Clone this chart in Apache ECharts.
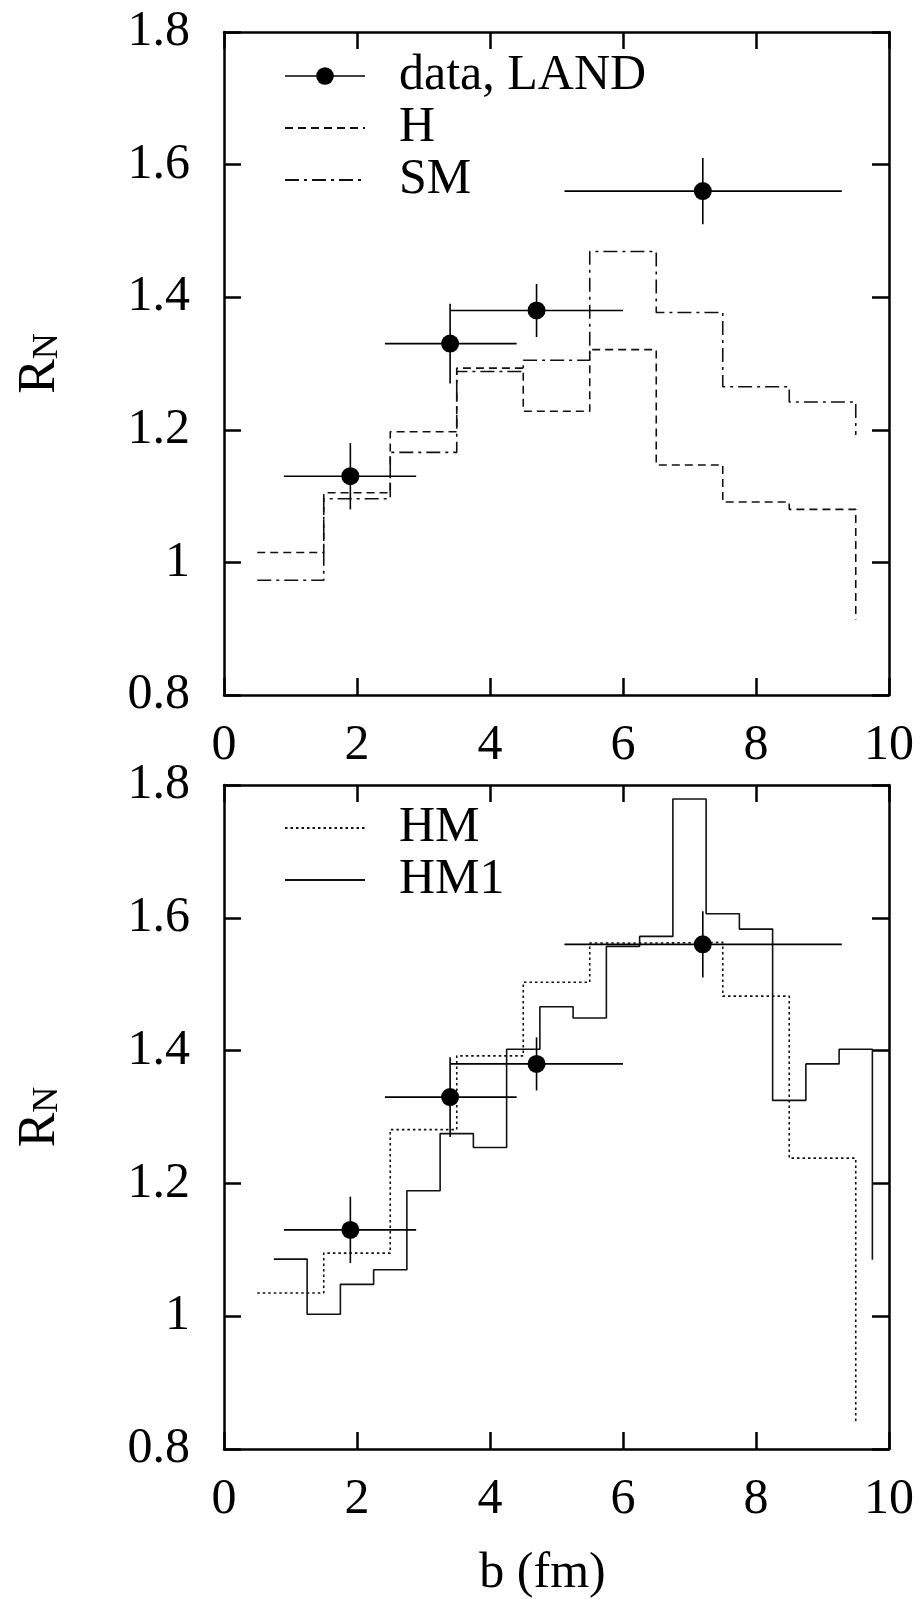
<!DOCTYPE html>
<html><head><meta charset="utf-8">
<script src="https://cdn.jsdelivr.net/npm/echarts@6/dist/echarts.min.js"></script>
<style>html,body{margin:0;padding:0;background:#fff}#c{width:920px;height:1608px}</style>
</head><body><div id="c"></div>
<script>
// ---- axis ticks ----
const xTicks = [0, 2, 4, 6, 8, 10];
const yTicks = [0.8, 1.0, 1.2, 1.4, 1.6, 1.8];

// ---- data, LAND ----
const dataX    = [1.9, 3.4, 4.7, 7.2];
const dataY    = [1.13, 1.33, 1.38, 1.56];
const dataXLo  = [0.9, 2.42, 3.41, 5.12];
const dataXHi  = [2.89, 4.40, 6.0, 9.29];
const dataYErr = [0.05, 0.06, 0.04, 0.05];

// ---- model histograms (bin edges + bin values + closing value) ----
const binEdges = [0.5, 1.5, 2.5, 3.5, 4.5, 5.5, 6.5, 7.5, 8.5, 9.5];
const hValues  = [1.015, 1.105, 1.197, 1.293, 1.228, 1.321, 1.147, 1.091, 1.080];
const hEnd     = 0.914;
const smValues = [0.973, 1.096, 1.166, 1.288, 1.305, 1.469, 1.377, 1.265, 1.242];
const smEnd    = 1.192;
const hmValues = [1.035, 1.095, 1.281, 1.392, 1.503, 1.562, 1.563, 1.482, 1.238];
const hmEnd    = 0.839;
const hm1Edges  = [0.75, 1.25, 1.75, 2.25, 2.75, 3.25, 3.75, 4.25, 4.75, 5.25, 5.75, 6.25, 6.75, 7.25, 7.75, 8.25, 8.75, 9.25, 9.75];
const hm1Values = [1.086, 1.003, 1.048, 1.070, 1.189, 1.275, 1.254, 1.402, 1.466, 1.449, 1.557, 1.572, 1.779, 1.606, 1.583, 1.325, 1.380, 1.402];
const hm1End    = 1.085;

const F = '"Liberation Serif", "Times New Roman", serif';
const FS = 50;

function stepData(edges, vals, endVal) {
  const d = vals.map((v, i) => [edges[i], v]);
  d.push([edges[edges.length - 1], vals[vals.length - 1]]);
  d.push([edges[edges.length - 1], endVal]);
  return d;
}
const pts = dataX.map((x, i) => [x, dataY[i]]);
const errs = dataX.map((x, i) => [x, dataY[i], dataXLo[i], dataXHi[i], dataY[i] - dataYErr[i], dataY[i] + dataYErr[i]]);

const xMin = xTicks[0], xMax = xTicks[xTicks.length - 1], xInt = xTicks[1] - xTicks[0];
const yMin = yTicks[0], yMax = yTicks[yTicks.length - 1], yInt = 0.2;

const lineAx = {show: true, onZero: false, lineStyle: {color: '#000', width: 2.5}};
const tickIn = {show: true, inside: true, length: 17, lineStyle: {color: '#000', width: 2.5}};

function xAx(grid, pos, labels, extra) {
  return Object.assign({
    type: 'value', gridIndex: grid, position: pos, min: xMin, max: xMax, interval: xInt,
    axisLine: lineAx, axisTick: tickIn, splitLine: {show: false},
    axisLabel: {show: labels, margin: 26, fontFamily: F, fontSize: FS, color: '#000'}
  }, extra || {});
}
function yAx(grid, pos, labels, extra) {
  return Object.assign({
    type: 'value', gridIndex: grid, position: pos, min: yMin, max: yMax, interval: yInt,
    axisLine: lineAx, axisTick: tickIn, splitLine: {show: false},
    axisLabel: {show: labels, margin: 34, fontFamily: F, fontSize: FS, color: '#000'}
  }, extra || {});
}
const yName = {
  name: '{r|R}{s|N}', nameLocation: 'middle', nameRotate: 90, nameGap: 158,
  nameTextStyle: {rich: {
    r: {fontFamily: F, fontSize: 52, color: '#000', verticalAlign: 'top', lineHeight: 52},
    s: {fontFamily: F, fontSize: 36, color: '#000', verticalAlign: 'bottom', lineHeight: 36, padding: [22, 0, 0, 0]}
  }}
};

function errSeries(xi, yi) {
  return {
    type: 'custom', xAxisIndex: xi, yAxisIndex: yi, data: errs, clip: false, z: 4,
    renderItem(params, api) {
      const x = api.value(0), y = api.value(1);
      const a = api.coord([api.value(2), y]), b = api.coord([api.value(3), y]);
      const c = api.coord([x, api.value(4)]), d = api.coord([x, api.value(5)]);
      const st = {stroke: '#000', lineWidth: 1.6};
      return {type: 'group', children: [
        {type: 'line', shape: {x1: a[0], y1: a[1], x2: b[0], y2: b[1]}, style: st},
        {type: 'line', shape: {x1: c[0], y1: c[1], x2: d[0], y2: d[1]}, style: st}
      ]};
    }
  };
}
function ptSeries(xi, yi) {
  return {
    name: 'data, LAND', type: 'line', xAxisIndex: xi, yAxisIndex: yi, data: pts,
    symbol: 'circle', symbolSize: 18, showSymbol: true, z: 5,
    itemStyle: {color: '#000'}, lineStyle: {opacity: 0, color: '#000', width: 1.6}
  };
}
function histSeries(name, d, xi, yi, dash) {
  return {
    name, type: 'line', step: 'end', xAxisIndex: xi, yAxisIndex: yi, data: d,
    symbol: 'none', showSymbol: false, z: 3,
    itemStyle: {color: '#000'},
    lineStyle: {color: '#111', width: 1.6, type: dash}
  };
}

const legendText = {fontFamily: F, fontSize: FS, color: '#000', lineHeight: 50, padding: [0, 0, 0, 29]};
const noSym = {opacity: 0};

const option = {
  animation: false,
  backgroundColor: '#fff',
  grid: [
    {left: 221, top: 32, width: 668, height: 663},
    {left: 221, top: 785, width: 668, height: 664}
  ],
  xAxis: [
    xAx(0, 'bottom', true),
    xAx(0, 'top', false),
    xAx(1, 'bottom', true, {name: 'b (fm)', nameLocation: 'middle', nameGap: 100,
      nameTextStyle: {fontFamily: F, fontSize: FS, color: '#000', padding: [0, 28, 0, 0]}}),
    xAx(1, 'top', false)
  ],
  yAxis: [
    yAx(0, 'left', true, yName),
    yAx(0, 'right', false),
    yAx(1, 'left', true, yName),
    yAx(1, 'right', false)
  ],
  legend: [
    {top: 51, left: 284, orient: 'vertical', padding: 0, itemWidth: 80, itemHeight: 22, itemGap: 2,
     selectedMode: false, textStyle: legendText,
     data: [{name: 'data, LAND', lineStyle: {opacity: 1, width: 1.6, color: '#000'}},
            {name: 'H', itemStyle: noSym}, {name: 'SM', itemStyle: noSym}]},
    {top: 803, left: 284, orient: 'vertical', padding: 0, itemWidth: 80, itemHeight: 22, itemGap: 2,
     selectedMode: false, textStyle: legendText,
     data: [{name: 'HM', itemStyle: noSym}, {name: 'HM1', itemStyle: noSym}]}
  ],
  series: [
    histSeries('H', stepData(binEdges, hValues, hEnd), 0, 0, [8, 5]),
    histSeries('SM', stepData(binEdges, smValues, smEnd), 0, 0, [14, 5, 3, 5]),
    errSeries(0, 0),
    ptSeries(0, 0),
    histSeries('HM', stepData(binEdges, hmValues, hmEnd), 2, 2, [2.5, 3]),
    histSeries('HM1', stepData(hm1Edges, hm1Values, hm1End), 2, 2, 'solid'),
    errSeries(2, 2),
    ptSeries(2, 2)
  ]
};
const chart = echarts.init(document.getElementById('c'), null, {renderer: 'canvas'});
chart.setOption(option);
</script>
</body></html>
